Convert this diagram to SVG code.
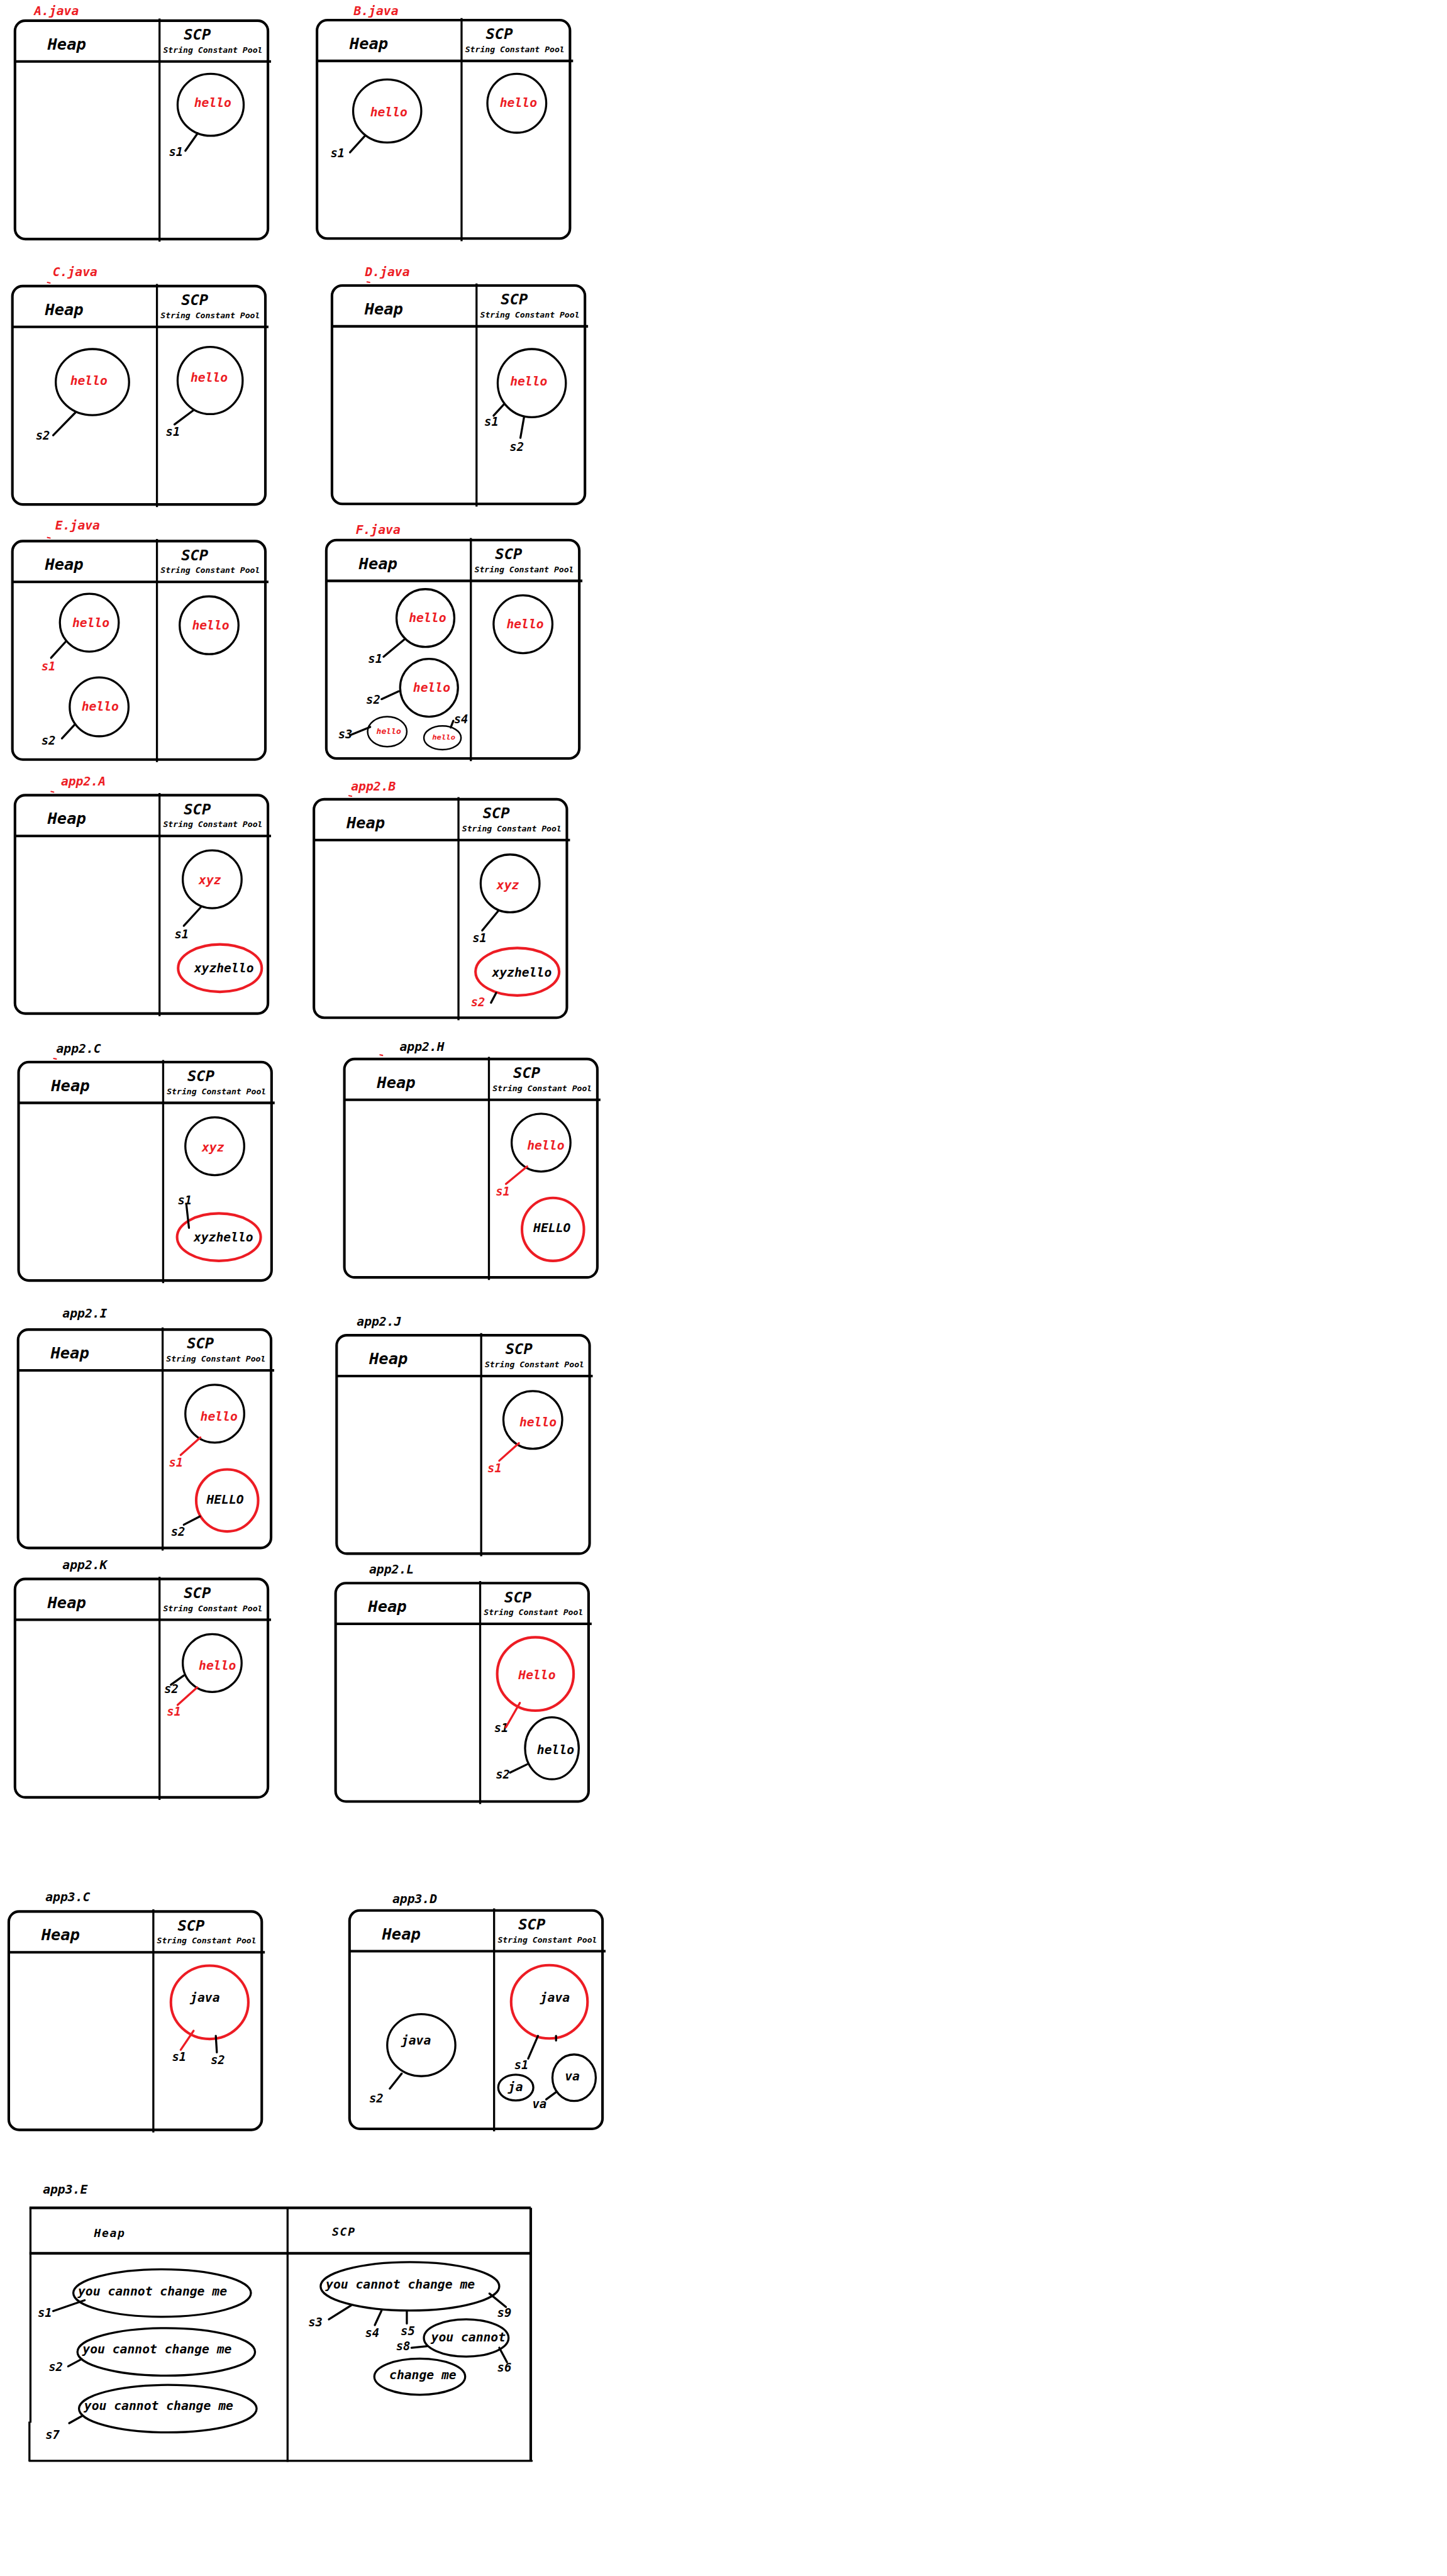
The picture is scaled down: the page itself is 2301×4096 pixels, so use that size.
<svg xmlns="http://www.w3.org/2000/svg" xmlns:xlink="http://www.w3.org/1999/xlink" width="2301" height="4096" viewBox="0 0 2301 4096">
<style>
.f{font-family:"DejaVu Sans Mono","Liberation Mono",monospace;font-style:italic}
.ti{font-size:24px;font-weight:bold}
.v{font-size:24px;font-weight:bold}
.s{font-size:23px;font-weight:bold}
.hp{font-size:31px;font-weight:bold}
.scp{font-size:29px;font-weight:bold}
.sub{font-size:16px;font-weight:bold}
.r{fill:#ED1C24}
.k{fill:#000}
.bx{fill:none;stroke:#000;stroke-width:5}
.dv{stroke:#000;stroke-width:4}
.hl{stroke:#000;stroke-width:5}
.c{fill:none;stroke:#000;stroke-width:4}
.cs{fill:none;stroke:#000;stroke-width:3}
.cr{fill:none;stroke:#ED1C24;stroke-width:5}
.pl{stroke:#000;stroke-width:4;stroke-linecap:round}
.plr{stroke:#ED1C24;stroke-width:4;stroke-linecap:round}
.tk{stroke:#ED1C24;stroke-width:2.5;stroke-linecap:round}
</style>
<defs>
<g id="frame">
<rect x="0" y="0" width="490" height="423" rx="20" class="bx"/>
<line x1="0" y1="79" x2="496" y2="79" class="hl"/>
<line x1="280" y1="-4" x2="280" y2="428" class="dv"/>
</g>
</defs>
<rect width="2301" height="4096" fill="#fff"/>
<g transform="scale(0.821)">

<g id="A">
<text x="66" y="29" class="f ti r">A.java</text>
<use href="#frame" x="29" y="40"/>
<text x="92" y="96" class="f hp k">Heap</text>
<text x="356" y="77" class="f scp k">SCP</text>
<text x="316" y="102" class="f sub k">String Constant Pool</text>
<ellipse cx="408" cy="203" rx="64" ry="60" class="c"/>
<text x="376" y="207" class="f v r">hello</text>
<text x="327" y="302" class="f s k">s1</text>
</g>

<g id="B">
<text x="685" y="29" class="f ti r">B.java</text>
<use href="#frame" x="614" y="39"/>
<text x="677" y="95" class="f hp k">Heap</text>
<text x="941" y="76" class="f scp k">SCP</text>
<text x="901" y="101" class="f sub k">String Constant Pool</text>
<ellipse cx="750" cy="215" rx="66" ry="61" class="c"/>
<text x="717" y="225" class="f v r">hello</text>
<text x="640" y="305" class="f s k">s1</text>
<ellipse cx="1001" cy="200" rx="57" ry="57" class="c"/>
<text x="968" y="207" class="f v r">hello</text>
</g>

<g id="C">
<text x="102" y="535" class="f ti r">C.java</text>
<use href="#frame" x="24" y="554"/>
<text x="87" y="610" class="f hp k">Heap</text>
<text x="351" y="591" class="f scp k">SCP</text>
<text x="311" y="616" class="f sub k">String Constant Pool</text>
<ellipse cx="179" cy="740" rx="71" ry="64" class="c"/>
<text x="136" y="745" class="f v r">hello</text>
<text x="69" y="851" class="f s k">s2</text>
<ellipse cx="407" cy="737" rx="63" ry="65" class="c"/>
<text x="369" y="739" class="f v r">hello</text>
<text x="321" y="844" class="f s k">s1</text>
</g>

<g id="D">
<text x="707" y="535" class="f ti r">D.java</text>
<use href="#frame" x="643" y="553"/>
<text x="706" y="609" class="f hp k">Heap</text>
<text x="970" y="590" class="f scp k">SCP</text>
<text x="930" y="615" class="f sub k">String Constant Pool</text>
<ellipse cx="1030" cy="742" rx="66" ry="66" class="c"/>
<text x="988" y="747" class="f v r">hello</text>
<text x="938" y="825" class="f s k">s1</text>
<text x="987" y="873" class="f s k">s2</text>
</g>

<g id="E">
<text x="107" y="1026" class="f ti r">E.java</text>
<use href="#frame" x="24" y="1048"/>
<text x="87" y="1104" class="f hp k">Heap</text>
<text x="351" y="1085" class="f scp k">SCP</text>
<text x="311" y="1110" class="f sub k">String Constant Pool</text>
<ellipse cx="173" cy="1206" rx="57" ry="56" class="c"/>
<text x="140" y="1214" class="f v r">hello</text>
<text x="80" y="1298" class="f s r">s1</text>
<ellipse cx="192" cy="1369" rx="57" ry="57" class="c"/>
<text x="158" y="1376" class="f v r">hello</text>
<text x="80" y="1442" class="f s k">s2</text>
<ellipse cx="405" cy="1211" rx="57" ry="56" class="c"/>
<text x="372" y="1219" class="f v r">hello</text>
</g>

<g id="F">
<text x="689" y="1034" class="f ti r">F.java</text>
<use href="#frame" x="632" y="1046"/>
<text x="695" y="1102" class="f hp k">Heap</text>
<text x="959" y="1083" class="f scp k">SCP</text>
<text x="919" y="1108" class="f sub k">String Constant Pool</text>
<ellipse cx="824" cy="1197" rx="56" ry="56" class="c"/>
<text x="792" y="1205" class="f v r">hello</text>
<text x="713" y="1284" class="f s k">s1</text>
<ellipse cx="831" cy="1332" rx="56" ry="56" class="c"/>
<text x="800" y="1340" class="f v r">hello</text>
<text x="709" y="1363" class="f s k">s2</text>
<ellipse cx="750" cy="1417" rx="38" ry="29" class="cs"/>
<text x="729" y="1421" class="f r" font-size="15" font-weight="bold" textLength="48" lengthAdjust="spacingAndGlyphs">hello</text>
<text x="655" y="1430" class="f s k">s3</text>
<ellipse cx="857" cy="1429" rx="36" ry="23" class="cs"/>
<text x="837" y="1433" class="f r" font-size="13" font-weight="bold" textLength="45" lengthAdjust="spacingAndGlyphs">hello</text>
<text x="879" y="1401" class="f s k">s4</text>
<ellipse cx="1013" cy="1209" rx="57" ry="56" class="c"/>
<text x="981" y="1217" class="f v r">hello</text>
</g>

<g id="app2A">
<text x="118" y="1521" class="f ti r">app2.A</text>
<use href="#frame" x="29" y="1540"/>
<text x="92" y="1596" class="f hp k">Heap</text>
<text x="356" y="1577" class="f scp k">SCP</text>
<text x="316" y="1602" class="f sub k">String Constant Pool</text>
<ellipse cx="411" cy="1703" rx="57" ry="56" class="c"/>
<text x="385" y="1713" class="f v r">xyz</text>
<text x="338" y="1817" class="f s k">s1</text>
<ellipse cx="426" cy="1875" rx="81" ry="46" class="cr"/>
<text x="376" y="1883" class="f v k">xyzhello</text>
</g>

<g id="app2B">
<text x="680" y="1531" class="f ti r">app2.B</text>
<use href="#frame" x="608" y="1548"/>
<text x="671" y="1604" class="f hp k">Heap</text>
<text x="935" y="1585" class="f scp k">SCP</text>
<text x="895" y="1610" class="f sub k">String Constant Pool</text>
<ellipse cx="988" cy="1711" rx="57" ry="56" class="c"/>
<text x="962" y="1722" class="f v r">xyz</text>
<text x="915" y="1825" class="f s k">s1</text>
<ellipse cx="1002" cy="1882" rx="81" ry="46" class="cr"/>
<text x="953" y="1891" class="f v k">xyzhello</text>
<text x="912" y="1949" class="f s r">s2</text>
</g>

<g id="app2C">
<text x="109" y="2039" class="f ti k">app2.C</text>
<use href="#frame" x="36" y="2057"/>
<text x="99" y="2113" class="f hp k">Heap</text>
<text x="363" y="2094" class="f scp k">SCP</text>
<text x="323" y="2119" class="f sub k">String Constant Pool</text>
<ellipse cx="416" cy="2220" rx="57" ry="56" class="c"/>
<text x="391" y="2230" class="f v r">xyz</text>
<ellipse cx="424" cy="2396" rx="81" ry="46" class="cr"/>
<text x="375" y="2404" class="f v k">xyzhello</text>
<text x="344" y="2333" class="f s k">s1</text>
</g>

<g id="app2H">
<text x="774" y="2035" class="f ti k">app2.H</text>
<use href="#frame" x="667" y="2051"/>
<text x="730" y="2107" class="f hp k">Heap</text>
<text x="994" y="2088" class="f scp k">SCP</text>
<text x="954" y="2113" class="f sub k">String Constant Pool</text>
<ellipse cx="1048" cy="2213" rx="57" ry="56" class="c"/>
<text x="1021" y="2226" class="f v r">hello</text>
<text x="960" y="2315" class="f s r">s1</text>
<ellipse cx="1071" cy="2381" rx="60" ry="61" class="cr"/>
<text x="1033" y="2386" class="f v k">HELLO</text>
</g>

<g id="app2I">
<text x="121" y="2552" class="f ti k">app2.I</text>
<use href="#frame" x="35" y="2575"/>
<text x="98" y="2631" class="f hp k">Heap</text>
<text x="362" y="2612" class="f scp k">SCP</text>
<text x="322" y="2637" class="f sub k">String Constant Pool</text>
<ellipse cx="416" cy="2738" rx="57" ry="56" class="c"/>
<text x="388" y="2751" class="f v r">hello</text>
<text x="327" y="2840" class="f s r">s1</text>
<ellipse cx="440" cy="2906" rx="60" ry="60" class="cr"/>
<text x="400" y="2912" class="f v k">HELLO</text>
<text x="331" y="2975" class="f s k">s2</text>
</g>

<g id="app2J">
<text x="691" y="2567" class="f ti k">app2.J</text>
<use href="#frame" x="652" y="2586"/>
<text x="715" y="2642" class="f hp k">Heap</text>
<text x="979" y="2623" class="f scp k">SCP</text>
<text x="939" y="2648" class="f sub k">String Constant Pool</text>
<ellipse cx="1032" cy="2750" rx="57" ry="56" class="c"/>
<text x="1006" y="2762" class="f v r">hello</text>
<text x="944" y="2851" class="f s r">s1</text>
</g>

<g id="app2K">
<text x="121" y="3039" class="f ti k">app2.K</text>
<use href="#frame" x="29" y="3058"/>
<text x="92" y="3114" class="f hp k">Heap</text>
<text x="356" y="3095" class="f scp k">SCP</text>
<text x="316" y="3120" class="f sub k">String Constant Pool</text>
<ellipse cx="411" cy="3221" rx="57" ry="56" class="c"/>
<text x="385" y="3234" class="f v r">hello</text>
<text x="318" y="3279" class="f s k">s2</text>
<text x="323" y="3323" class="f s r">s1</text>
</g>

<g id="app2L">
<text x="715" y="3047" class="f ti k">app2.L</text>
<use href="#frame" x="650" y="3066"/>
<text x="713" y="3122" class="f hp k">Heap</text>
<text x="977" y="3103" class="f scp k">SCP</text>
<text x="937" y="3128" class="f sub k">String Constant Pool</text>
<ellipse cx="1037" cy="3242" rx="74" ry="71" class="cr"/>
<text x="1004" y="3252" class="f v r">Hello</text>
<text x="957" y="3355" class="f s k">s1</text>
<ellipse cx="1069" cy="3386" rx="52" ry="60" class="c"/>
<text x="1040" y="3397" class="f v k">hello</text>
<text x="960" y="3444" class="f s k">s2</text>
</g>

<g id="app3C">
<text x="88" y="3682" class="f ti k">app3.C</text>
<use href="#frame" x="17" y="3702"/>
<text x="80" y="3758" class="f hp k">Heap</text>
<text x="344" y="3739" class="f scp k">SCP</text>
<text x="304" y="3764" class="f sub k">String Constant Pool</text>
<ellipse cx="406" cy="3878" rx="75" ry="71" class="cr"/>
<text x="368" y="3877" class="f v k">java</text>
<text x="333" y="3992" class="f s k">s1</text>
<text x="408" y="3997" class="f s k">s2</text>
</g>

<g id="app3D">
<text x="760" y="3686" class="f ti k">app3.D</text>
<use href="#frame" x="677" y="3700"/>
<text x="740" y="3756" class="f hp k">Heap</text>
<text x="1004" y="3737" class="f scp k">SCP</text>
<text x="964" y="3762" class="f sub k">String Constant Pool</text>
<ellipse cx="1064" cy="3877" rx="74" ry="71" class="cr"/>
<text x="1046" y="3877" class="f v k">java</text>
<text x="996" y="4007" class="f s k">s1</text>
<ellipse cx="816" cy="3961" rx="66" ry="60" class="c"/>
<text x="777" y="3960" class="f v k">java</text>
<text x="715" y="4072" class="f s k">s2</text>
<ellipse cx="999" cy="4043" rx="34" ry="25" class="c"/>
<text x="984" y="4050" class="f v k">ja</text>
<ellipse cx="1112" cy="4024" rx="42" ry="45" class="c"/>
<text x="1094" y="4029" class="f v k">va</text>
<text x="1031" y="4083" class="f s k">va</text>
</g>

<g id="app3E">
<text x="83" y="4249" class="f ti k">app3.E</text>
<line x1="57" y1="4276" x2="1028" y2="4276" class="hl"/>
<line x1="57" y1="4766" x2="1030" y2="4766" class="pl" stroke-width="6"/>
<line x1="59" y1="4276" x2="59" y2="4692" class="dv"/>
<line x1="57" y1="4690" x2="57" y2="4766" class="dv"/>
<line x1="1028" y1="4276" x2="1028" y2="4766" class="hl"/>
<line x1="57" y1="4364" x2="1028" y2="4364" class="hl"/>
<line x1="557" y1="4276" x2="557" y2="4768" class="dv"/>
<text x="182" y="4332" class="f k" font-size="22" font-weight="bold" textLength="59">Heap</text>
<text x="643" y="4330" class="f k" font-size="22" font-weight="bold" textLength="44">SCP</text>
<ellipse cx="314" cy="4441" rx="172" ry="46" class="c"/>
<text x="151" y="4446" class="f v k">you cannot change me</text>
<text x="73" y="4487" class="f s k">s1</text>
<ellipse cx="322" cy="4555" rx="172" ry="46" class="c"/>
<text x="160" y="4558" class="f v k">you cannot change me</text>
<text x="94" y="4592" class="f s k">s2</text>
<ellipse cx="325" cy="4665" rx="172" ry="46" class="c"/>
<text x="163" y="4668" class="f v k">you cannot change me</text>
<text x="88" y="4723" class="f s k">s7</text>
<ellipse cx="794" cy="4428" rx="173" ry="47" class="c"/>
<text x="631" y="4432" class="f v k">you cannot change me</text>
<text x="597" y="4506" class="f s k">s3</text>
<text x="707" y="4526" class="f s k">s4</text>
<text x="776" y="4523" class="f s k">s5</text>
<text x="963" y="4487" class="f s k">s9</text>
<ellipse cx="903" cy="4528" rx="82" ry="36" class="c"/>
<text x="835" y="4535" class="f v k">you cannot</text>
<text x="767" y="4552" class="f s k">s8</text>
<text x="963" y="4593" class="f s k">s6</text>
<ellipse cx="813" cy="4603" rx="88" ry="35" class="c"/>
<text x="754" y="4608" class="f v k">change me</text>
</g>

<g id="connectors">
<line x1="383" y1="258" x2="359" y2="292" class="pl"/>
<line x1="707" y1="263" x2="678" y2="295" class="pl"/>
<line x1="146" y1="799" x2="103" y2="843" class="pl"/>
<line x1="374" y1="795" x2="338" y2="822" class="pl"/>
<line x1="976" y1="783" x2="956" y2="805" class="pl"/>
<line x1="1015" y1="808" x2="1008" y2="848" class="pl"/>
<line x1="127" y1="1243" x2="99" y2="1274" class="pl"/>
<line x1="145" y1="1403" x2="120" y2="1430" class="pl"/>
<line x1="785" y1="1237" x2="743" y2="1272" class="pl"/>
<line x1="772" y1="1339" x2="739" y2="1354" class="pl"/>
<line x1="717" y1="1408" x2="678" y2="1424" class="pl"/>
<line x1="873" y1="1409" x2="878" y2="1396" class="pl"/>
<line x1="389" y1="1757" x2="356" y2="1793" class="pl"/>
<line x1="966" y1="1763" x2="934" y2="1802" class="pl"/>
<line x1="961" y1="1923" x2="951" y2="1942" class="pl"/>
<line x1="361" y1="2333" x2="366" y2="2378" class="pl"/>
<line x1="1021" y1="2259" x2="980" y2="2293" class="plr"/>
<line x1="388" y1="2784" x2="350" y2="2818" class="plr"/>
<line x1="387" y1="2937" x2="356" y2="2953" class="pl"/>
<line x1="1005" y1="2795" x2="967" y2="2829" class="plr"/>
<line x1="356" y1="3245" x2="331" y2="3263" class="pl"/>
<line x1="382" y1="3268" x2="344" y2="3302" class="plr"/>
<line x1="1007" y1="3298" x2="980" y2="3345" class="plr"/>
<line x1="1021" y1="3417" x2="988" y2="3433" class="pl"/>
<line x1="375" y1="3933" x2="350" y2="3970" class="plr"/>
<line x1="418" y1="3943" x2="420" y2="3975" class="pl"/>
<line x1="1042" y1="3943" x2="1023" y2="3987" class="pl"/>
<line x1="1077" y1="3943" x2="1077" y2="3952" class="pl"/>
<line x1="778" y1="4016" x2="755" y2="4045" class="pl"/>
<line x1="1077" y1="4052" x2="1058" y2="4066" class="pl"/>
<line x1="164" y1="4455" x2="103" y2="4476" class="pl"/>
<line x1="158" y1="4569" x2="132" y2="4583" class="pl"/>
<line x1="159" y1="4679" x2="134" y2="4693" class="pl"/>
<line x1="680" y1="4465" x2="637" y2="4492" class="pl"/>
<line x1="739" y1="4475" x2="726" y2="4503" class="pl"/>
<line x1="788" y1="4477" x2="788" y2="4500" class="pl"/>
<line x1="948" y1="4442" x2="980" y2="4468" class="pl"/>
<line x1="827" y1="4544" x2="797" y2="4547" class="pl"/>
<line x1="967" y1="4547" x2="982" y2="4575" class="pl"/>
</g>

<g id="marks">
<line x1="92" y1="547" x2="97" y2="548" class="tk"/>
<line x1="711" y1="546" x2="716" y2="547" class="tk"/>
<line x1="92" y1="1041" x2="97" y2="1042" class="tk"/>
<line x1="99" y1="1533" x2="104" y2="1534" class="tk"/>
<line x1="676" y1="1541" x2="681" y2="1542" class="tk"/>
<line x1="104" y1="2050" x2="109" y2="2051" class="tk"/>
<line x1="736" y1="2043" x2="741" y2="2044" class="tk"/>
</g>

</g>
</svg>
